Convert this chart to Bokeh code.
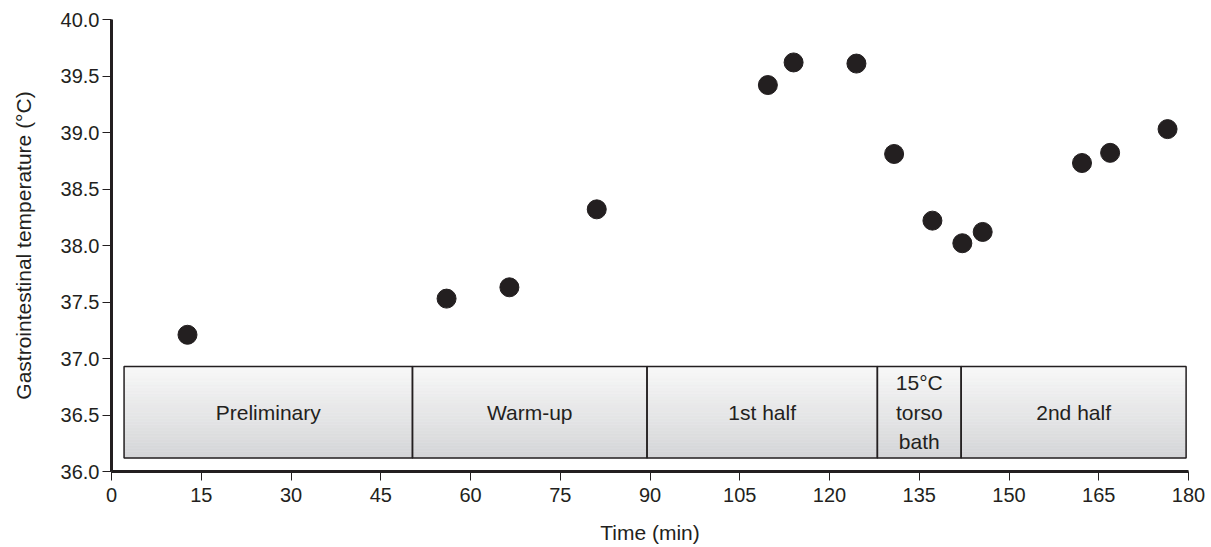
from bokeh.plotting import figure
from bokeh.models import ColumnDataSource, FixedTicker, NumeralTickFormatter, Range1d
from bokeh.core.properties import value
from bokeh.embed import file_html
from bokeh.resources import INLINE

# ---- data ----
time_min = [12.7, 56.0, 66.5, 81.1, 109.7, 114.0, 124.5, 130.8, 137.2, 142.2, 145.6, 162.2, 166.9, 176.5]
gi_temp = [37.21, 37.53, 37.63, 38.32, 39.42, 39.62, 39.61, 38.81, 38.22, 38.02, 38.12, 38.73, 38.82, 39.03]

phase_labels = ["Preliminary", "Warm-up", "1st half", "15°C\ntorso\nbath", "2nd half"]
phase_start = [2.1, 50.3, 89.5, 128.0, 142.0]
phase_end = [50.3, 89.5, 128.0, 142.0, 179.6]
phase_bottom = 36.12
phase_top = 36.93

x_ticks = [0, 15, 30, 45, 60, 75, 90, 105, 120, 135, 150, 165, 180]
y_ticks = [36.0, 36.5, 37.0, 37.5, 38.0, 38.5, 39.0, 39.5, 40.0]

INK = "#231f20"
FONT = "Liberation Sans"

p = figure(width=1211, height=547, output_backend="svg", toolbar_location=None,
           x_range=Range1d(0, 180), y_range=Range1d(36, 40),
           min_border_left=111, min_border_right=23, min_border_top=19, min_border_bottom=76)
p.outline_line_color = None
p.grid.visible = False
p.background_fill_color = "white"

# gradient-filled phase boxes (bands from light top to grey bottom)
n_bands = 30
top_rgb = (248, 248, 248)
bot_rgb = (212, 213, 215)
for i in range(n_bands):
    f0 = i / n_bands
    f1 = (i + 1) / n_bands
    fm = (i + 0.5) / n_bands
    col = tuple(int(round(top_rgb[k] + (bot_rgb[k] - top_rgb[k]) * fm)) for k in range(3))
    hexcol = "#%02x%02x%02x" % col
    y_hi = phase_top - (phase_top - phase_bottom) * f0
    y_lo = phase_top - (phase_top - phase_bottom) * f1
    p.quad(left=phase_start, right=phase_end, top=[y_hi] * len(phase_start),
           bottom=[y_lo] * len(phase_start), fill_color=hexcol, line_color=hexcol, line_width=0.5)

box_src = ColumnDataSource(dict(left=phase_start, right=phase_end,
                                top=[phase_top] * len(phase_start),
                                bottom=[phase_bottom] * len(phase_start),
                                label=phase_labels,
                                xc=[(a + b) / 2 for a, b in zip(phase_start, phase_end)],
                                yc=[(phase_top + phase_bottom) / 2] * len(phase_start)))
p.quad(left="left", right="right", top="top", bottom="bottom", source=box_src,
       fill_color=None, line_color=INK, line_width=1.5)
p.text(x="xc", y="yc", text="label", source=box_src, text_align="center",
       text_baseline="middle", text_font=value(FONT), text_font_size="21px",
       text_color=INK, text_line_height=1.27)

# data points
p.scatter(time_min, gi_temp, size=19, fill_color=INK, line_color=INK, marker="circle")

# axes
for ax in (p.xaxis[0], p.yaxis[0]):
    ax.axis_line_width = 3
    ax.axis_line_color = INK
    ax.major_tick_line_color = INK
    ax.major_tick_line_width = 1
    ax.major_tick_out = 9
    ax.major_tick_in = 0
    ax.minor_tick_line_color = None
    ax.major_label_text_font = FONT
    ax.major_label_text_font_size = "20px"
    ax.major_label_text_color = INK
    ax.axis_label_text_font = FONT
    ax.axis_label_text_font_size = "21px"
    ax.axis_label_text_font_style = "normal"
    ax.axis_label_text_color = INK

p.xaxis.ticker = FixedTicker(ticks=x_ticks)
p.yaxis.ticker = FixedTicker(ticks=y_ticks)
p.yaxis.formatter = NumeralTickFormatter(format="0.0")
p.xaxis.axis_label = "Time (min)"
p.yaxis.axis_label = "Gastrointestinal temperature (°C)"
p.xaxis.major_label_standoff = 7
p.yaxis.major_label_standoff = 3
p.xaxis.axis_label_standoff = 16
p.yaxis.axis_label_standoff = 23

open("out.html", "w").write(file_html(p, INLINE))
